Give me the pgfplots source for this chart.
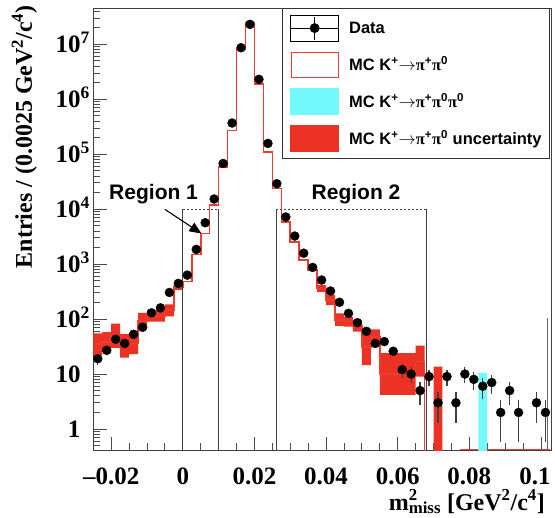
\documentclass[border=0pt]{standalone}
\usepackage{fontspec}
\setmainfont{Liberation Serif}
\setsansfont{Liberation Sans}
\newfontfamily\grk{Liberation Serif}
\usepackage{pgfplots}
\usepackage{pgfplotstable}
\pgfplotsset{compat=1.18}
\usepgfplotslibrary{fillbetween}
\usetikzlibrary{arrows.meta}
\definecolor{mcred}{RGB}{240,60,45}
\definecolor{bandred}{RGB}{236,50,36}
\definecolor{mccyan}{RGB}{115,250,252}

\pgfplotstableread{
x y e
-0.02375 19 4.36
-0.02125 27 5.2
-0.01875 43 6.56
-0.01625 36 6
-0.01375 53 7.28
-0.01125 71 8.43
-0.00875 130 11.4
-0.00625 160 12.6
-0.00375 305 17.5
-0.00125 446 21.1
0.00125 630 25.1
0.00375 1850 43
0.00625 5660 75
0.00875 15300 124
0.01125 67700 260
0.01375 369000 607
0.01625 8650000 2941
0.01875 23000000 4796
0.02125 2300000 1517
0.02375 157000 396
0.02625 29000 170
0.02875 7200 85
0.03125 3240 57
0.03375 1580 40
0.03625 870 29.5
0.03875 513 22.6
0.04125 324 18
0.04375 202 14.2
0.04625 127 11.3
0.04875 86 9.3
0.05125 60 7.75
0.05375 36 6
0.05625 39 6.24
0.05875 26 5.1
0.06125 12 3.46
0.06375 10 3.16
0.06625 5 2.24
0.06875 9 3
0.07125 3 1.73
0.07375 9 3
0.07625 3 1.73
0.07875 10 3.16
0.08125 8 2.83
0.08375 6 2.45
0.08625 7 2.65
0.08875 2 1.41
0.09125 5 2.24
0.09375 2 1.41
0.09875 3 1.73
0.10125 2 1.41
}\data

\pgfplotstableread{
x y
-0.025 35
-0.0225 38
-0.02 50
-0.0175 33
-0.015 36
-0.0125 92
-0.01 115
-0.0075 115
-0.005 145
-0.0025 385
0 480
0.0025 1500
0.005 3600
0.0075 11800
0.01 59000
0.0125 268000
0.015 8300000
0.0175 24500000
0.02 1870000
0.0225 110000
0.025 23800
0.0275 5900
0.03 2540
0.0325 1180
0.035 780
0.0375 360
0.04 220
0.0425 97
0.045 90
0.0475 75
0.05 31
0.0525 48
0.055 10
0.0575 10
0.06 10
0.0625 10
0.065 17
0.0675 0.1
0.07 0.1
}\mc

\pgfplotstableread{
x lo hi
-0.025 22 55
-0.0225 25 58
-0.02 30 83
-0.0175 20 53
-0.015 23 55
-0.0125 65 130
-0.01 90 145
-0.0075 90 145
-0.005 112 185
-0.0025 340 430
0 340 430
}\bandA

\pgfplotstableread{
x lo hi
0.0375 313 414
0.04 180 272
0.0425 75 127
0.045 73 110
0.0475 59 96
0.05 14.6 67
0.0525 35 65
0.055 4.2 24
0.0575 4.2 24
0.06 4.2 24
0.0625 4.2 24
0.065 9 33
0.0675 9 33
}\bandB

\pgfplotstableread{
x lo hi
0.07 0.1 13.6
0.0725 0.1 13.6
}\bandC

\pgfplotstableread{
x lo hi
0.0825 0.1 10.6
0.085 0.1 10.6
}\cyanbin

\begin{document}
\begin{tikzpicture}
\begin{axis}[
  scale only axis, width=458.4pt, height=441.7pt,
  ymode=log, log basis y=10,
  xmin=-0.025, xmax=0.103, ymin=0.415, ymax=4.51e7,
  axis line style={black!75, line width=1pt},
  tick align=inside, xtick pos=lower, ytick pos=left,
  major tick length=13.5pt, minor tick length=7pt,
  tick style={black!70, line width=0.9pt},
  xtick={-0.02,0,0.02,0.04,0.06,0.08,0.1},
  xticklabels={\textendash0.02,0,0.02,0.04,0.06,0.08,\makebox[0pt]{0.1\kern12pt}},
  minor x tick num=3,
  ytick={1,10,100,1000,10000,100000,1000000,10000000},
  yticklabels={1,10,10\rlap{\textsuperscript{2}},10\rlap{\textsuperscript{3}},10\rlap{\textsuperscript{4}},10\rlap{\textsuperscript{5}},10\rlap{\textsuperscript{6}},10\rlap{\textsuperscript{7}}},
  minor ytick={0.5,0.6,0.7,0.8,0.9,2,3,4,5,6,7,8,9,20,30,40,50,60,70,80,90,200,300,400,500,600,700,800,900,2000,3000,4000,5000,6000,7000,8000,9000,20000,30000,40000,50000,60000,70000,80000,90000,200000,300000,400000,500000,600000,700000,800000,900000,2000000,3000000,4000000,5000000,6000000,7000000,8000000,9000000,20000000,30000000,40000000},
  tick label style={font=\bfseries\fontsize{25}{30}\selectfont},
  xticklabel style={anchor=base, yshift=-34pt, inner sep=0pt},
  yticklabel style={anchor=base east, xshift=-12.6pt, yshift=-8.1pt, inner sep=0pt},
  legend style={at={(0.9963,1)}, anchor=north east, draw=black!80, line width=0.8pt, fill=white,
    inner xsep=8pt, inner ysep=6pt, row sep=10.3pt, column sep=10pt,
    font=\sffamily\bfseries\fontsize{16.5}{19.8}\selectfont,
    nodes={inner sep=0pt, anchor=base west}},
]
\coordinate (bl) at (rel axis cs:0,0);
\coordinate (tr) at (rel axis cs:1,1);

% uncertainty band
\addplot[const plot, draw=none, name path=aHi, forget plot] table[x=x,y=hi]{\bandA};
\addplot[const plot, draw=none, name path=aLo, forget plot] table[x=x,y=lo]{\bandA};
\addplot[fill=bandred, draw=none, forget plot] fill between[of=aHi and aLo];
\addplot[const plot, draw=none, name path=bHi, forget plot] table[x=x,y=hi]{\bandB};
\addplot[const plot, draw=none, name path=bLo, forget plot] table[x=x,y=lo]{\bandB};
\addplot[fill=bandred, draw=none, forget plot] fill between[of=bHi and bLo];
\addplot[const plot, draw=none, name path=cHi, forget plot] table[x=x,y=hi]{\bandC};
\addplot[const plot, draw=none, name path=cLo, forget plot] table[x=x,y=lo]{\bandC};
\addplot[fill=bandred, draw=none, forget plot] fill between[of=cHi and cLo];
% K -> pi pi pi
\addplot[const plot, draw=none, name path=dHi, forget plot] table[x=x,y=hi]{\cyanbin};
\addplot[const plot, draw=none, name path=dLo, forget plot] table[x=x,y=lo]{\cyanbin};
\addplot[fill=mccyan, draw=none, forget plot] fill between[of=dHi and dLo];

% MC histogram
\addplot[const plot, mcred, line width=1.6pt, forget plot] table[x=x,y=y]{\mc};
\addplot[mcred, line width=1.4pt, forget plot] coordinates {(0.0775,0.42) (0.0825,0.42)};
\addplot[mcred, line width=1.4pt, forget plot] coordinates {(0.085,0.42) (0.1025,0.42)};

% regions
\addplot[black!75, line width=0.8pt, forget plot] coordinates {(0,0.3) (0,10000)};
\addplot[black!75, line width=0.8pt, forget plot] coordinates {(0.01,0.3) (0.01,10000)};
\addplot[black!75, line width=0.6pt, dash pattern=on 2pt off 2pt, forget plot] coordinates {(0,10000) (0.01,10000)};
\addplot[black!75, line width=0.8pt, forget plot] coordinates {(0.026,0.3) (0.026,10000)};
\addplot[black!75, line width=0.8pt, forget plot] coordinates {(0.068,0.3) (0.068,10000)};
\addplot[black!75, line width=0.6pt, dash pattern=on 2pt off 2pt, forget plot] coordinates {(0.026,10000) (0.068,10000)};
\addplot[black!60, line width=1.2pt, forget plot] coordinates {(0.1018,0.3) (0.1018,103)};

% data
\addplot[only marks, mark=*, mark size=4.5pt, black, forget plot,
  error bars/.cd, y dir=both, y explicit, error mark=none,
  error bar style={line width=1.2pt, black!75}]
  table[x=x, y=y, y error=e]{\data};

\node[anchor=base east, font=\sffamily\bfseries\fontsize{21}{25}\selectfont] at (axis cs:0.0052,15200) {Region 1};
\node[anchor=base west, font=\sffamily\bfseries\fontsize{21}{25}\selectfont] at (axis cs:0.0350,15200) {Region 2};
\draw[black, line width=1.1pt, -{Triangle[length=12pt,width=10pt]}] (axis cs:-0.005,9900) -- (axis cs:0.0052,3600);

\addlegendimage{legend image code/.code={
  \draw[black, line width=1pt] (0pt,5.9pt) -- (48pt,5.9pt);
  \draw[black, line width=1pt] (24pt,-5.6pt) -- (24pt,17.4pt);
  \fill[black] (24pt,5.9pt) circle (4.5pt);
  \path (0pt,-7.1pt) rectangle (48pt,18.9pt);}}
\addlegendentry{Data}
\addlegendimage{legend image code/.code={
  \draw[mcred, line width=1pt, fill=white] (0.5pt,-6.6pt) rectangle (47.5pt,18.4pt);}}
\addlegendentry{MC K\textsuperscript{+}$\rightarrow${\grk π}\textsuperscript{+}{\grk π}\textsuperscript{0}}
\addlegendimage{legend image code/.code={
  \fill[mccyan] (0pt,-7.1pt) rectangle (48pt,18.9pt);}}
\addlegendentry{MC K\textsuperscript{+}$\rightarrow${\grk π}\textsuperscript{+}{\grk π}\textsuperscript{0}{\grk π}\textsuperscript{0}}
\addlegendimage{legend image code/.code={
  \fill[bandred] (0pt,-7.1pt) rectangle (48pt,18.9pt);}}
\addlegendentry{MC K\textsuperscript{+}$\rightarrow${\grk π}\textsuperscript{+}{\grk π}\textsuperscript{0} uncertainty}
\end{axis}
\node[rotate=90, anchor=base east, inner sep=0pt, font=\bfseries\fontsize{24}{29}\selectfont] at ([xshift=-61.3pt,yshift=3.3pt]tr -| bl) {Entries / (0.0025 GeV\textsuperscript{2}/c\textsuperscript{4})};
\node[anchor=base east, inner sep=0pt, font=\bfseries\fontsize{24}{29}\selectfont] at ([xshift=-6.7pt,yshift=-60pt]bl -| tr) {m\rlap{\textsuperscript{2}}\textsubscript{miss} [GeV\textsuperscript{2}/c\textsuperscript{4}]};
\pgfresetboundingbox
\path ([xshift=-93.3pt,yshift=-67pt]bl) rectangle ([xshift=3.3pt,yshift=8.3pt]tr);
\end{tikzpicture}
\end{document}
